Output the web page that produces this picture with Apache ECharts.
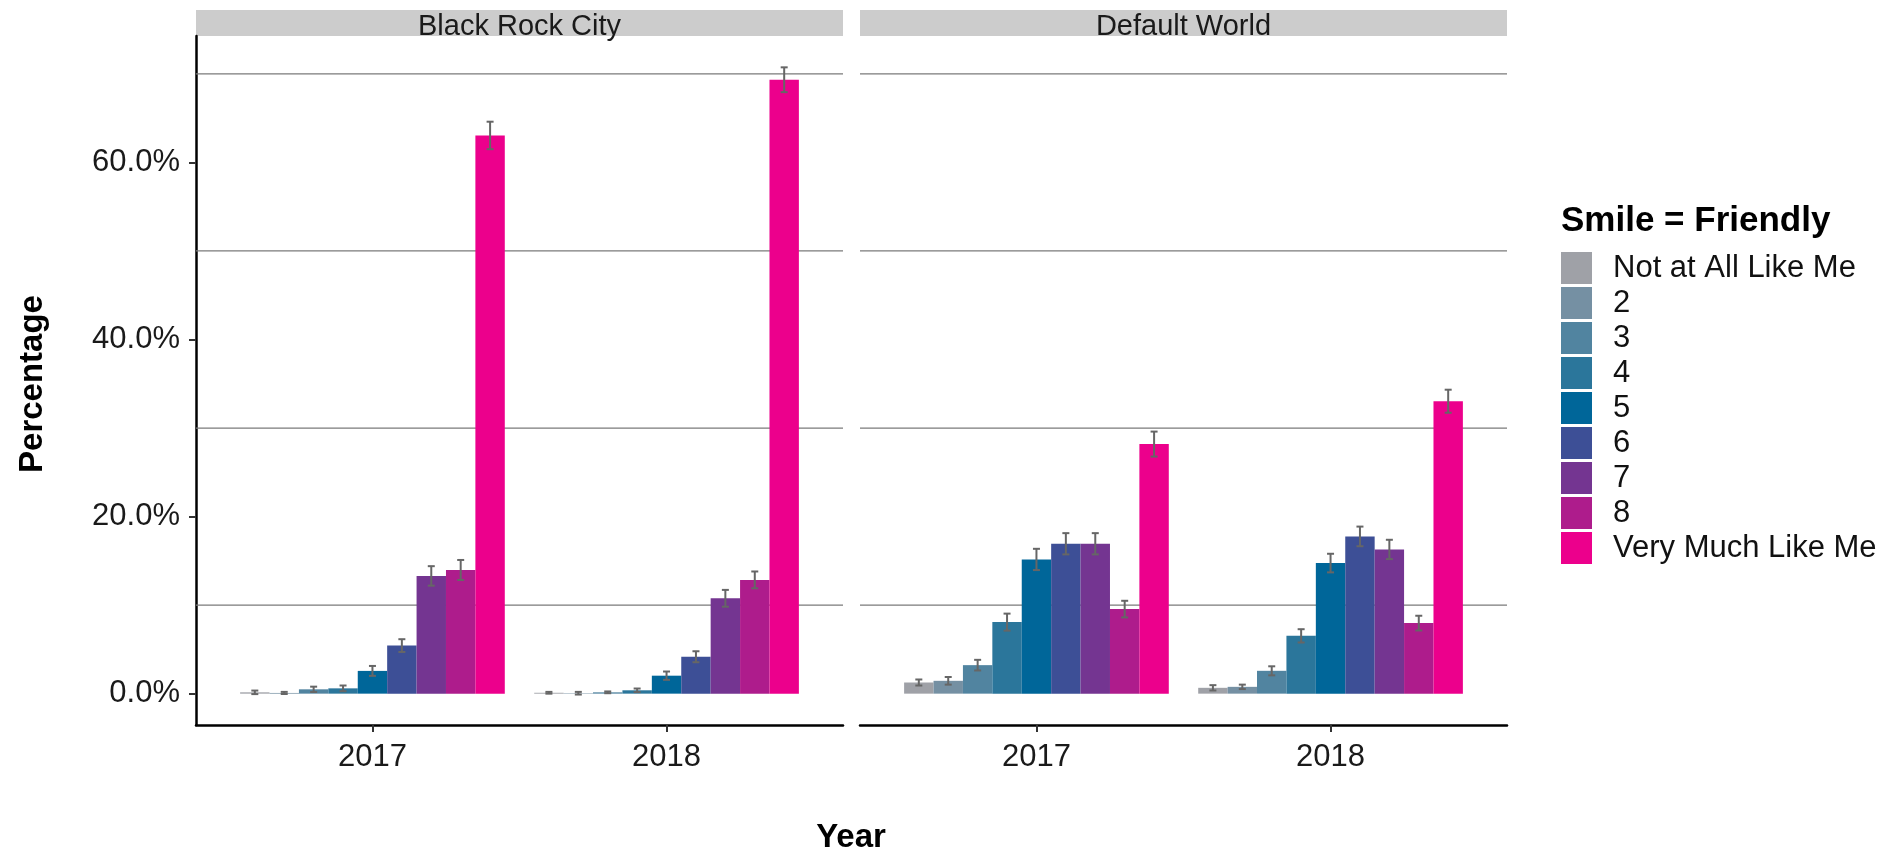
<!DOCTYPE html>
<html>
<head>
<meta charset="utf-8">
<script src="https://cdn.jsdelivr.net/npm/echarts@6/dist/echarts.min.js"></script>
<style>
html,body{margin:0;padding:0;background:#fff;}
#chart{width:1900px;height:853px;}
</style>
</head>
<body>
<div id="chart"></div>
<script>
// ---- data ----
const years = ['2017', '2018'];
const facets = ['Black Rock City', 'Default World'];
const levels = ['Not at All Like Me', '2', '3', '4', '5', '6', '7', '8', 'Very Much Like Me'];
const colors = ['#9fa1a7', '#7590a3', '#5184a0', '#2b769b', '#006699', '#3d4f96', '#743591', '#ae1c8c', '#ec008c'];

const brc2017 = [0.15, 0.08, 0.49, 0.60, 2.57, 5.43, 13.3, 13.97, 63.05];
const brc2018 = [0.10, 0.05, 0.15, 0.38, 2.03, 4.17, 10.77, 12.85, 69.34];
const dw2017 = [1.26, 1.45, 3.22, 8.08, 15.16, 16.93, 16.93, 9.55, 28.19];
const dw2018 = [0.66, 0.77, 2.58, 6.53, 14.75, 17.76, 16.29, 7.97, 33.03];

const brcErr2017 = [0.20, 0.12, 0.30, 0.32, 0.56, 0.72, 1.10, 1.13, 1.55];
const brcErr2018 = [0.10, 0.15, 0.10, 0.20, 0.47, 0.62, 0.95, 0.95, 1.40];
const dwErr2017 = [0.34, 0.43, 0.60, 0.96, 1.20, 1.20, 1.20, 0.94, 1.41];
const dwErr2018 = [0.30, 0.25, 0.51, 0.75, 1.05, 1.11, 1.09, 0.83, 1.30];

const yTickValues = [0, 20, 40, 60];
const gridValues = [10, 30, 50, 70];

// ---- layout ----
const FONT = '"Liberation Sans", Arial, sans-serif';
const panelTop = 36, panelH = 689, panelW = 647;
const panelLeft = [196, 860];
const xMin = 0.4, xMax = 2.6;
const yMin = -3.54, yMax = 74.28;
const barW = panelW / (xMax - xMin) * 0.1;

const facetData = [[brc2017, brc2018], [dw2017, dw2018]];
const facetErr = [[brcErr2017, brcErr2018], [dwErr2017, dwErr2018]];

const grids = [], xAxes = [], yAxes = [], series = [], graphics = [];

facets.forEach((fname, f) => {
  grids.push({left: panelLeft[f], top: panelTop, width: panelW, height: panelH});
  xAxes.push({
    type: 'value', gridIndex: f, min: xMin, max: xMax,
    axisLine: {show: true, onZero: false, lineStyle: {color: '#000', width: 2.5}},
    axisTick: {show: true, customValues: [1, 2], length: 7, lineStyle: {color: '#333', width: 2}},
    axisLabel: {show: true, customValues: [1, 2], margin: 17, fontSize: 31, color: '#1a1a1a', fontFamily: FONT,
      formatter: v => years[Math.round(v) - 1]},
    splitLine: {show: false}
  });
  yAxes.push({
    type: 'value', gridIndex: f, min: yMin, max: yMax,
    show: f === 0,
    axisLine: {show: true, lineStyle: {color: '#000', width: 2.5}},
    axisTick: {show: true, customValues: yTickValues, length: 7, lineStyle: {color: '#333', width: 2}},
    axisLabel: {show: true, customValues: yTickValues, margin: 16, fontSize: 31, color: '#1a1a1a', fontFamily: FONT,
      formatter: v => v.toFixed(1) + '%'},
    splitLine: {show: false}
  });

  // gridlines
  series.push({
    type: 'custom', name: 'grid' + f, xAxisIndex: f, yAxisIndex: f, silent: true, z: 1,
    data: gridValues.map(v => [1, v]), encode: {x: 0, y: 1},
    renderItem: (params, api) => {
      const cs = params.coordSys;
      const y = api.coord([1, api.value(1)])[1];
      return {type: 'line', shape: {x1: cs.x, y1: y, x2: cs.x + cs.width, y2: y},
        style: {stroke: '#7a7a7a', lineWidth: 1.2}};
    }
  });

  // bars
  levels.forEach((lv, i) => {
    series.push({
      type: 'bar', name: lv, xAxisIndex: f, yAxisIndex: f, z: 2,
      barWidth: barW, barGap: '0%',
      itemStyle: {color: colors[i]},
      data: years.map((y, k) => [k + 1, facetData[f][k][i]])
    });
  });

  // error bars
  const errData = [];
  years.forEach((y, k) => {
    levels.forEach((lv, i) => {
      const v = facetData[f][k][i], e = facetErr[f][k][i];
      errData.push([k + 1, i, v - e, v + e]);
    });
  });
  series.push({
    type: 'custom', name: 'err' + f, xAxisIndex: f, yAxisIndex: f, silent: true, z: 3,
    data: errData, encode: {x: 0, y: [2, 3]},
    renderItem: (params, api) => {
      const xc = api.coord([api.value(0), 0])[0];
      const w = api.size([0.1, 0])[0];
      const x = xc + (api.value(1) - 4) * w;
      const yLo = api.coord([api.value(0), api.value(2)])[1];
      const yHi = api.coord([api.value(0), api.value(3)])[1];
      const cap = 3.5;
      const st = {stroke: '#666', lineWidth: 2};
      return {type: 'group', children: [
        {type: 'line', shape: {x1: x, y1: yLo, x2: x, y2: yHi}, style: st},
        {type: 'line', shape: {x1: x - cap, y1: yLo, x2: x + cap, y2: yLo}, style: st},
        {type: 'line', shape: {x1: x - cap, y1: yHi, x2: x + cap, y2: yHi}, style: st}
      ]};
    }
  });

  // strip
  graphics.push({type: 'rect', left: panelLeft[f], top: 10, shape: {width: panelW, height: panelTop - 10},
    style: {fill: '#cccccc'}, z: 0, silent: true});
  graphics.push({type: 'text', x: panelLeft[f] + panelW / 2, y: 27,
    style: {text: fname, font: '29px ' + FONT, fill: '#1a1a1a', align: 'center', verticalAlign: 'middle'}, z: 1});
});

// axis titles & legend title
graphics.push({type: 'text', x: 851, y: 838,
  style: {text: 'Year', font: 'bold 33px ' + FONT, fill: '#000', align: 'center', verticalAlign: 'middle'}});
graphics.push({type: 'text', x: 33, y: 384, rotation: Math.PI / 2,
  style: {text: 'Percentage', font: 'bold 33px ' + FONT, fill: '#000', align: 'center', verticalAlign: 'middle'}});
graphics.push({type: 'text', x: 1561, y: 221,
  style: {text: 'Smile = Friendly', font: 'bold 35px ' + FONT, fill: '#000', align: 'left', verticalAlign: 'middle'}});

const chart = echarts.init(document.getElementById('chart'));
chart.setOption({
  animation: false,
  backgroundColor: '#fff',
  grid: grids,
  xAxis: xAxes,
  yAxis: yAxes,
  legend: {
    data: levels, orient: 'vertical', left: 1561, top: 252, padding: 0,
    itemWidth: 31, itemHeight: 32, itemGap: 3, icon: 'rect',
    selectedMode: false,
    textStyle: {fontSize: 31, color: '#111', fontFamily: FONT, lineHeight: 32, padding: [0, 0, 0, 16]}
  },
  graphic: graphics,
  series: series
});
</script>
</body>
</html>
